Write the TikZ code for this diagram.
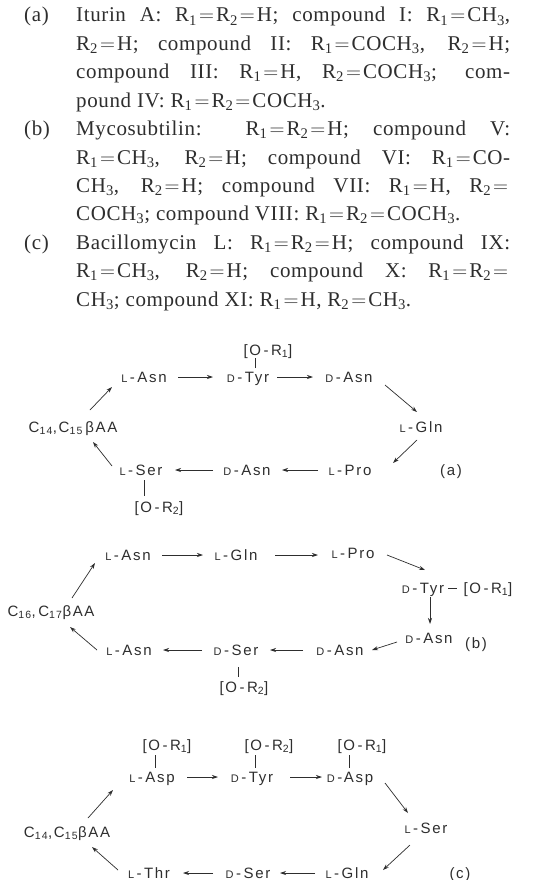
\documentclass[tikz,border=0pt]{standalone}
\usepackage{fontspec}
\setmainfont{Liberation Serif}[LetterSpace=3]
\newfontfamily\labfont[LetterSpace=11]{Liberation Sans}
\usepackage{tikz}
\usetikzlibrary{arrows.meta}

\definecolor{ink}{gray}{0.18}

\newcommand{\Rs}[1]{R\textsubscript{#1}}
\newcommand{\CHt}{CH\textsubscript{3}}
\newcommand{\eq}{\hbox to 19pt{\hss$=$\hss}}
\newcommand{\sL}{{\fontsize{11}{11}\selectfont L}}
\newcommand{\sD}{{\fontsize{11}{11}\selectfont D}}

\begin{document}
\begin{tikzpicture}[x=1pt, y=-1pt,
    aa/.style={font={\labfont\fontsize{15}{15}\selectfont}, text=ink,
        inner sep=2pt, text height=10pt, text depth=0pt},
    arr/.style={-{Stealth[length=6pt,width=4pt]}, line width=0.7pt, draw=ink},
    bond/.style={line width=0.7pt, draw=ink},
    para/.style={anchor=base west, inner sep=0pt, text width=434pt, align=justify,
        font=\fontsize{21}{28.4}\selectfont, text=ink},
    tag/.style={anchor=base west, inner sep=0pt, font=\fontsize{21}{28.4}\selectfont, text=ink}]
    \path[use as bounding box, fill=white] (0,0) rectangle (533,880);

    % legend
    \node[tag] (tagA) at (24,22) {(a)};
    \node[para] (txtA) at (76,22) {\hyphenpenalty=10000 Iturin A: \Rs1\eq\Rs2\eq H; compound I: \Rs1\eq CH\textsubscript{3},\linebreak
        \Rs2\eq H; compound II: \Rs1\eq CO\CHt, \Rs2\eq H;\linebreak
        compound III: \Rs1\eq H, \Rs2\eq CO\CHt; com-\linebreak
        pound IV: \Rs1\eq\Rs2\eq CO\CHt.};
    \node[tag] (tagB) at (24,135.6) {(b)};
    \node[para] (txtB) at (76,135.6) {\hyphenpenalty=10000 Mycosubtilin: \Rs1\eq\Rs2\eq H; compound V:\linebreak
        \Rs1\eq\CHt, \Rs2\eq H; compound VI: \Rs1\eq CO-\linebreak
        \CHt, \Rs2\eq H; compound VII: \Rs1\eq H, \Rs2\eq\linebreak
        CO\CHt; compound VIII: \Rs1\eq\Rs2\eq CO\CHt.};
    \node[tag] (tagC) at (24,249.2) {(c)};
    \node[para] (txtC) at (76,249.2) {\hyphenpenalty=10000 Bacillomycin L: \Rs1\eq\Rs2\eq H; compound IX:\linebreak
        \Rs1\eq\CHt, \Rs2\eq H; compound X: \Rs1\eq\Rs2\eq\linebreak
        \CHt; compound XI: \Rs1\eq H, \Rs2\eq\CHt.};

    % (a) iturin A
    \node[aa] (orA1)  at (268,350) {[O\,-\,R\textsubscript{1}]};
    \node[aa] (asnA)  at (144,377) {\sL\,-\,Asn};
    \node[aa] (tyrA)  at (248,377) {\sD\,-\,Tyr};
    \node[aa] (dasnA) at (349,377) {\sD\,-\,Asn};
    \node[aa] (glnA)  at (421,427) {\sL\,-\,Gln};
    \node[aa] (proA)  at (350,470) {\sL\,-\,Pro};
    \node[aa] (dasnA2) at (247,470) {\sD\,-\,Asn};
    \node[aa] (serA)  at (141,470) {\sL\,-\,Ser};
    \node[aa] (orA2)  at (159,507) {[O\,-\,R\textsubscript{2}]};
    \node[aa] (ccA)   at (73,427) {C\textsubscript{14},C\textsubscript{15}\,βAA};
    \node[aa] (labA)  at (451,470) {(a)};

    \draw[bond] ([shift={(7,-9)}]tyrA.center) -- ([shift={(-13,8)}]orA1.center);
    \draw[bond] ([shift={(3,10)}]serA.center) -- ([shift={(-15,-11)}]orA2.center);
    \draw[arr] ([shift={(34,0)}]asnA.center) -- ([shift={(-35,0)}]tyrA.center);
    \draw[arr] ([shift={(29,0)}]tyrA.center) -- ([shift={(-36,0)}]dasnA.center);
    \draw[arr] ([shift={(36,8)}]dasnA.center) -- ([shift={(-4,-15)}]glnA.center);
    \draw[arr] ([shift={(-4,13)}]glnA.center) -- ([shift={(43,-7)}]proA.center);
    \draw[arr] ([shift={(-32,0)}]proA.center) -- ([shift={(35,0)}]dasnA2.center);
    \draw[arr] ([shift={(-34,0)}]dasnA2.center) -- ([shift={(34,0)}]serA.center);
    \draw[arr] ([shift={(-29,-4)}]serA.center) -- ([shift={(20,15)}]ccA.center);
    \draw[arr] ([shift={(17,-17)}]ccA.center) -- ([shift={(-32,10)}]asnA.center);

    % (b) mycosubtilin
    \node[aa] (asnB)   at (128,555) {\sL\,-\,Asn};
    \node[aa] (glnB)   at (236,555) {\sL\,-\,Gln};
    \node[aa] (proB)   at (353,553) {\sL\,-\,Pro};
    \node[aa] (tyrB)   at (423,588) {\sD\,-\,Tyr};
    \node[aa] (orB1)   at (488,588) {[O\,-\,R\textsubscript{1}]};
    \node[aa] (dasnB1) at (429,638) {\sD\,-\,Asn};
    \node[aa] (dasnB2) at (340,650) {\sD\,-\,Asn};
    \node[aa] (serB)   at (236,650) {\sD\,-\,Ser};
    \node[aa] (asnB2)  at (129,650) {\sL\,-\,Asn};
    \node[aa] (orB2)   at (244,687) {[O\,-\,R\textsubscript{2}]};
    \node[aa] (ccB)    at (51,611) {C\textsubscript{16},\,C\textsubscript{17}βAA};
    \node[aa] (labB)   at (476,643) {(b)};

    \draw[bond] ([shift={(25,0)}]tyrB.center) -- ([shift={(-31,0)}]orB1.center);
    \draw[bond] ([shift={(2,17)}]serB.center) -- ([shift={(-6,-10)}]orB2.center);
    \draw[arr] ([shift={(34,0)}]asnB.center) -- ([shift={(-33,0)}]glnB.center);
    \draw[arr] ([shift={(39,0)}]glnB.center) -- ([shift={(-35,2)}]proB.center);
    \draw[arr] ([shift={(34,2)}]proB.center) -- ([shift={(2,-18)}]tyrB.center);
    \draw[arr] ([shift={(7,9)}]tyrB.center) -- ([shift={(1,-14)}]dasnB1.center);
    \draw[arr] ([shift={(-32,4)}]dasnB1.center) -- ([shift={(32,0)}]dasnB2.center);
    \draw[arr] ([shift={(-37,0)}]dasnB2.center) -- ([shift={(34,0)}]serB.center);
    \draw[arr] ([shift={(-34,0)}]serB.center) -- ([shift={(34,0)}]asnB2.center);
    \draw[arr] ([shift={(-32,0)}]asnB2.center) -- ([shift={(19,16)}]ccB.center);
    \draw[arr] ([shift={(21,-13)}]ccB.center) -- ([shift={(-33,8)}]asnB.center);

    % (c) bacillomycin L
    \node[aa] (orC1)  at (167,745) {[O\,-\,R\textsubscript{1}]};
    \node[aa] (orC2)  at (269,745) {[O\,-\,R\textsubscript{2}]};
    \node[aa] (orC3)  at (362,745) {[O\,-\,R\textsubscript{1}]};
    \node[aa] (aspC)  at (152,777) {\sL\,-\,Asp};
    \node[aa] (tyrC)  at (252,777) {\sD\,-\,Tyr};
    \node[aa] (daspC) at (350,777) {\sD\,-Asp};
    \node[aa] (serC)  at (426,828) {\sL\,-\,Ser};
    \node[aa] (glnC)  at (347,873) {\sL\,-\,Gln};
    \node[aa] (dserC) at (248,873) {\sD\,-\,Ser};
    \node[aa] (thrC)  at (149,873) {\sL\,-\,Thr};
    \node[aa] (ccC)   at (67,832) {C\textsubscript{14},C\textsubscript{15}βAA};
    \node[aa] (labC)  at (460,873) {(c)};

    \draw[bond] ([shift={(-12,10)}]orC1.center) -- ([shift={(3,-9)}]aspC.center);
    \draw[bond] ([shift={(-14,10)}]orC2.center) -- ([shift={(3,-9)}]tyrC.center);
    \draw[bond] ([shift={(-13,10)}]orC3.center) -- ([shift={(-1,-9)}]daspC.center);
    \draw[arr] ([shift={(35,0)}]aspC.center) -- ([shift={(-34,0)}]tyrC.center);
    \draw[arr] ([shift={(38,0)}]tyrC.center) -- ([shift={(-28,0)}]daspC.center);
    \draw[arr] ([shift={(35,6)}]daspC.center) -- ([shift={(-18,-15)}]serC.center);
    \draw[arr] ([shift={(-16,17)}]serC.center) -- ([shift={(36,-3)}]glnC.center);
    \draw[arr] ([shift={(-32,0)}]glnC.center) -- ([shift={(32,0)}]dserC.center);
    \draw[arr] ([shift={(-35,0)}]dserC.center) -- ([shift={(34,0)}]thrC.center);
    \draw[arr] ([shift={(-31,-3)}]thrC.center) -- ([shift={(25,15)}]ccC.center);
    \draw[arr] ([shift={(21,-14)}]ccC.center) -- ([shift={(-39,13)}]aspC.center);
\end{tikzpicture}
\end{document}
